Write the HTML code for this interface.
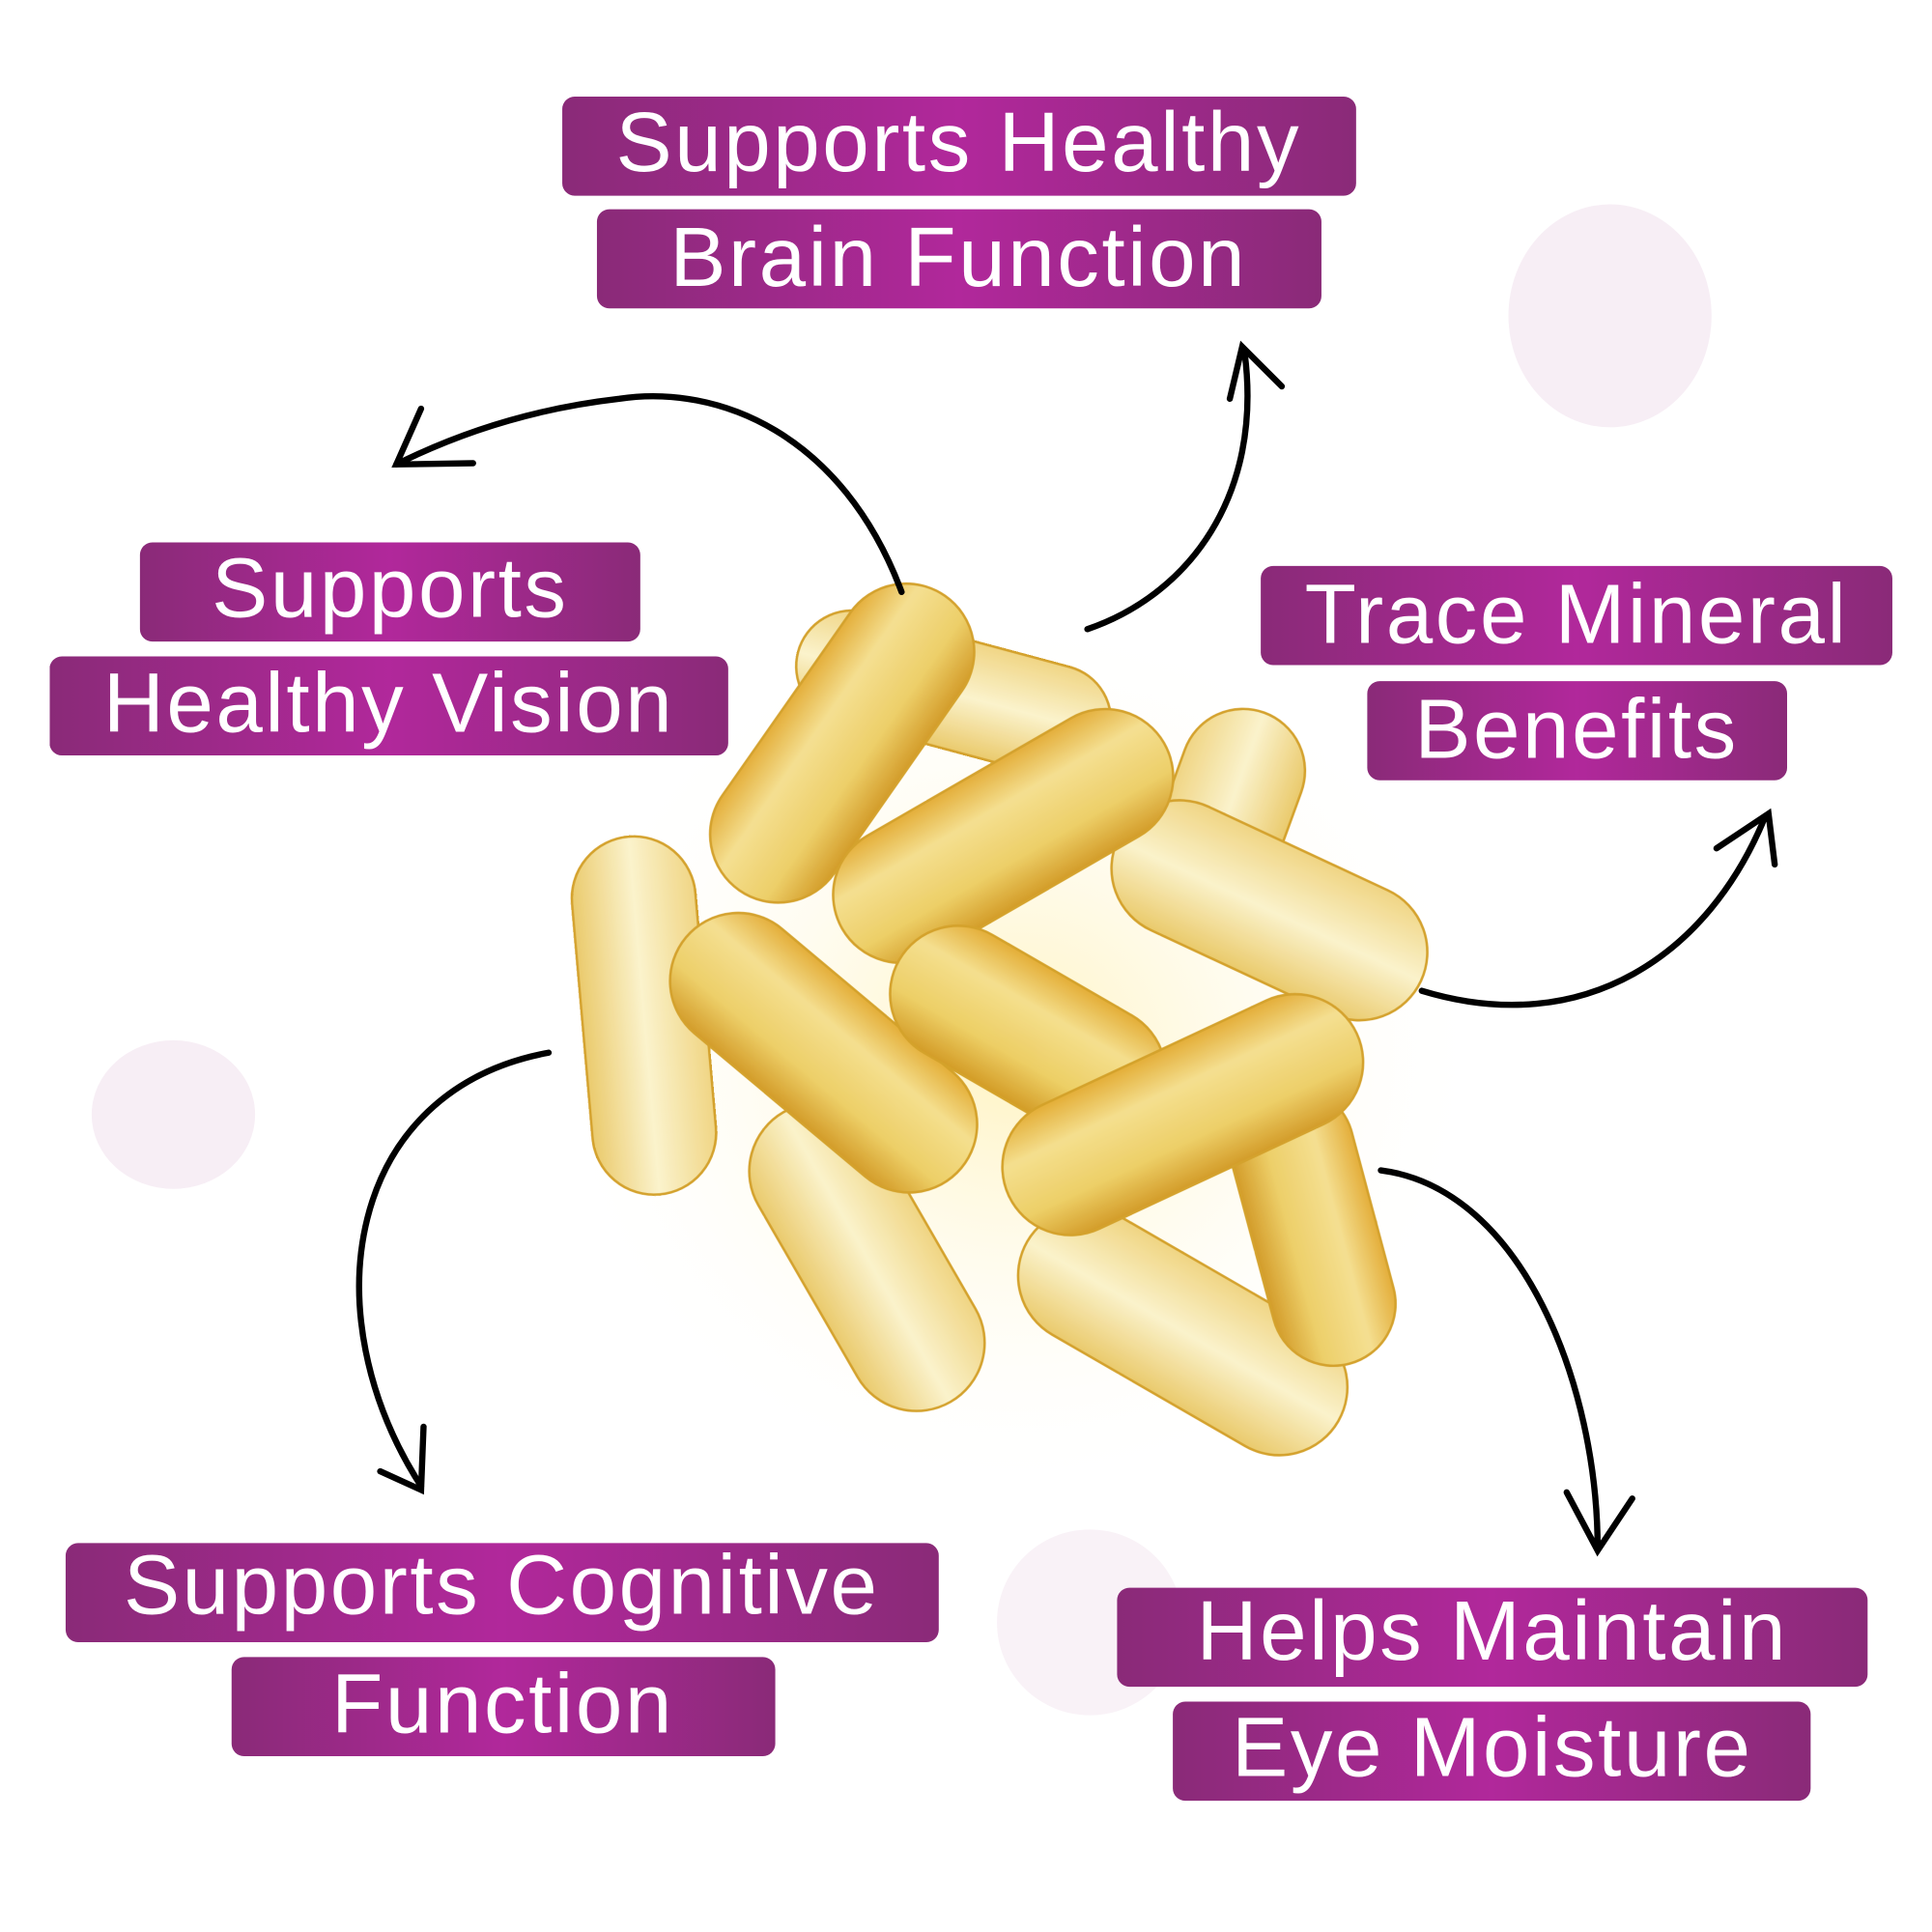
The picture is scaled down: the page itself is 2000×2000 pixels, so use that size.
<!DOCTYPE html>
<html><head><meta charset="utf-8"><style>
html,body{margin:0;padding:0;background:#fff;}
svg{display:block;}
text{font-family:"Liberation Sans",sans-serif;fill:#fff;font-size:68px;letter-spacing:2px;}
</style></head><body>
<svg width="2000" height="2000" viewBox="0 0 1560 1560" xmlns="http://www.w3.org/2000/svg">
<defs>
<linearGradient id="pg" x1="0" x2="1" y1="0" y2="0">
<stop offset="0" stop-color="#8a2a78"/><stop offset="0.5" stop-color="#b1289b"/><stop offset="1" stop-color="#8a2a78"/>
</linearGradient>
<linearGradient id="cap" x1="0" x2="0" y1="0" y2="1">
<stop offset="0" stop-color="#e2a82a"/><stop offset="0.3" stop-color="#f4dd88"/><stop offset="0.7" stop-color="#eccb5c"/><stop offset="1" stop-color="#d09418"/>
</linearGradient>
<linearGradient id="capl" x1="0" x2="0" y1="0" y2="1">
<stop offset="0" stop-color="#efd27a"/><stop offset="0.5" stop-color="#fbf2c8"/><stop offset="1" stop-color="#e9c660"/>
</linearGradient>
<radialGradient id="glow" cx="0.5" cy="0.5" r="0.5">
<stop offset="0" stop-color="#fff3c0"/><stop offset="1" stop-color="#fff" stop-opacity="0"/>
</radialGradient>
</defs>
<ellipse cx="1300" cy="255" rx="82" ry="90" fill="#f7eef5"/>
<ellipse cx="140" cy="900" rx="66" ry="60" fill="#f7eef5"/>
<circle cx="880" cy="1310" r="75" fill="#f9f2f7"/>
<ellipse cx="820" cy="850" rx="380" ry="360" fill="url(#glow)"/>
<g stroke="#d19a1c" stroke-width="2" opacity="0.92">
<rect x="-130" y="-45" width="260" height="90" rx="45" fill="url(#capl)" transform="translate(770,560) rotate(15)"/>
<rect x="-90" y="-50" width="180" height="100" rx="50" fill="url(#capl)" transform="translate(990,660) rotate(-70)"/>
<rect x="-145" y="-50" width="290" height="100" rx="50" fill="url(#capl)" transform="translate(520,820) rotate(85)"/>
<rect x="-145" y="-55" width="290" height="110" rx="55" fill="url(#cap)" transform="translate(680,600) rotate(-55)"/>
<rect x="-135" y="-55" width="270" height="110" rx="55" fill="url(#capl)" transform="translate(1025,735) rotate(25)"/>
<rect x="-150" y="-55" width="300" height="110" rx="55" fill="url(#cap)" transform="translate(810,675) rotate(-30)"/>
<rect x="-135" y="-55" width="270" height="110" rx="55" fill="url(#capl)" transform="translate(700,1015) rotate(60)"/>
<rect x="-145" y="-55" width="290" height="110" rx="55" fill="url(#capl)" transform="translate(955,1075) rotate(30)"/>
<rect x="-115" y="-50" width="230" height="100" rx="50" fill="url(#cap)" transform="translate(1060,990) rotate(75)"/>
<rect x="-145" y="-55" width="290" height="110" rx="55" fill="url(#cap)" transform="translate(665,850) rotate(40)"/>
<rect x="-120" y="-55" width="240" height="110" rx="55" fill="url(#cap)" transform="translate(830,835) rotate(30)"/>
<rect x="-155" y="-55" width="310" height="110" rx="55" fill="url(#cap)" transform="translate(955,900) rotate(-25)"/>
</g>
<g fill="none" stroke="#000" stroke-width="5" stroke-linecap="round">
<path d="M728,478 C680,350 580,310 500,322 C430,330 370,350 320,375"/>
<path d="M340,330 L320,375 L382,374"/>
<path d="M878,508 C960,480 1020,400 1005,285"/>
<path d="M993,322 L1003,280 L1035,312"/>
<path d="M1148,800 C1280,840 1380,770 1425,660"/>
<path d="M1386,685 L1428,657 L1433,698"/>
<path d="M443,850 C280,880 250,1060 340,1200"/>
<path d="M342,1152 L340,1203 L307,1188"/>
<path d="M1115,945 C1230,960 1290,1120 1290,1250"/>
<path d="M1265,1205 L1290,1252 L1318,1210"/>
</g>
<g fill="url(#pg)">
<rect x="454" y="78" width="641" height="80" rx="10"/>
<rect x="482" y="169" width="585" height="80" rx="10"/>
<rect x="113" y="438" width="404" height="80" rx="10"/>
<rect x="40" y="530" width="548" height="80" rx="10"/>
<rect x="1018" y="457" width="510" height="80" rx="10"/>
<rect x="1104" y="550" width="339" height="80" rx="10"/>
<rect x="53" y="1246" width="705" height="80" rx="10"/>
<rect x="187" y="1338" width="439" height="80" rx="10"/>
<rect x="902" y="1282" width="606" height="80" rx="10"/>
<rect x="947" y="1374" width="515" height="80" rx="10"/>
</g>
<g text-anchor="middle">
<text x="774" y="138">Supports Healthy</text>
<text x="774" y="231">Brain Function</text>
<text x="315" y="498">Supports</text>
<text x="314" y="591">Healthy Vision</text>
<text x="1273" y="519">Trace Mineral</text>
<text x="1273" y="612">Benefits</text>
<text x="405" y="1303">Supports Cognitive</text>
<text x="406" y="1399">Function</text>
<text x="1205" y="1340">Helps Maintain</text>
<text x="1205" y="1434">Eye Moisture</text>
</g>
</svg>
</body></html>
